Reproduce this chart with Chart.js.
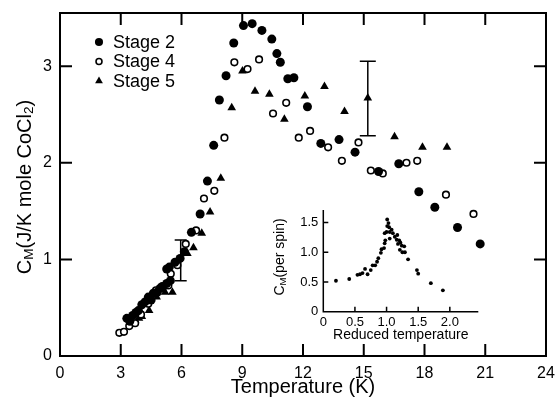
<!DOCTYPE html>
<html>
<head>
<meta charset="utf-8">
<script src="https://cdn.jsdelivr.net/npm/chart.js@4.4.1/dist/chart.umd.min.js"></script>
<style>
  body { margin: 0; background: #fff; }
  #wrap { position: relative; width: 555px; height: 398px; }
  #main { position: absolute; left: 0; top: 0; }
  #inset { position: absolute; left: 270px; top: 195px; }
</style>
</head>
<body>
<div id="wrap">
  <canvas id="main" width="555" height="398"></canvas>
  <canvas id="inset" width="215" height="150"></canvas>
</div>
<script>
// [temperature K, C_M J/K mole CoCl2]
const stage2 = [
  [3.30,0.39],[3.45,0.36],[3.59,0.42],[3.75,0.45],[3.87,0.47],[4.04,0.53],[4.20,0.56],[4.36,0.61],
  [4.50,0.58],[4.61,0.65],[4.80,0.66],[4.94,0.70],[5.05,0.72],[5.27,0.75],[5.45,0.78],[5.27,0.90],
  [5.40,0.92],[5.68,0.97],[5.93,1.01],[6.14,1.08],[6.49,1.28],[6.92,1.47],[7.28,1.81],[7.59,2.18],
  [7.87,2.65],[8.20,2.90],[8.58,3.24],[9.06,3.42],[9.49,3.44],[9.97,3.37],[10.46,3.28],[10.71,3.13],
  [10.88,3.04],[11.25,2.87],[11.55,2.88],[12.22,2.58],[12.88,2.20],[13.78,2.24],[14.57,2.11],
  [15.73,1.91],[16.73,1.99],[17.72,1.70],[18.51,1.54],[19.63,1.33],[20.75,1.16]
];
const stage4 = [
  [2.93,0.24],[3.16,0.25],[3.42,0.31],[3.60,0.38],[3.71,0.34],[4.00,0.43],[4.36,0.54],[4.55,0.62],
  [4.74,0.68],[5.11,0.72],[5.35,0.73],[5.47,0.85],[5.80,0.94],[6.21,1.16],[6.72,1.30],[7.11,1.63],
  [7.62,1.71],[8.12,2.26],[8.61,3.04],[9.26,2.97],[9.83,3.07],[10.52,2.51],[11.17,2.62],[11.79,2.26],
  [12.35,2.33],[13.24,2.16],[13.92,2.02],[14.74,2.21],[15.35,1.92],[15.94,1.89],[17.11,2.00],
  [17.64,2.02],[19.06,1.67],[20.42,1.47]
];
const stage5 = [
  [3.71,0.37],[3.90,0.39],[4.04,0.41],[4.40,0.47],[4.77,0.61],[5.19,0.66],[5.55,0.66],[6.29,1.06],
  [6.59,1.12],[7.00,1.27],[7.41,1.49],[7.94,1.84],[8.48,2.57],[9.01,2.95],[9.63,2.74],[10.34,2.71],
  [11.08,2.45],[12.09,2.69],[13.06,2.79],[14.05,2.53],[15.20,2.67],[16.52,2.27],[17.90,2.16],[19.11,2.16]
];
const errT = [5.96, 15.2];
const errLo = [0.78, 2.28];
const errHi = [1.20, 3.05];

// inset: [reduced temperature, C_M per spin]
const reduced = [
  [0.20,0.52],[0.41,0.55],[0.54,0.62],[0.58,0.63],[0.62,0.65],[0.66,0.72],[0.70,0.63],[0.75,0.70],
  [0.78,0.78],[0.82,0.78],[0.85,0.84],[0.87,0.90],[0.91,0.99],[0.92,1.05],[0.96,1.07],[0.97,1.15],
  [0.98,1.20],[0.97,1.32],[1.00,1.34],[1.01,1.44],[1.01,1.55],[1.03,1.49],[1.04,1.42],[1.05,1.34],
  [1.05,1.23],[1.08,1.38],[1.10,1.32],[1.13,1.26],[1.16,1.21],[1.17,1.29],[1.18,1.14],[1.20,1.20],
  [1.21,1.04],[1.22,1.16],[1.24,1.11],[1.25,1.00],[1.28,1.10],[1.29,1.00],[1.34,0.88],[1.48,0.70],
  [1.50,0.64],[1.70,0.48],[1.89,0.36]
];

const FONT = '"Liberation Sans", Arial, sans-serif';
Chart.defaults.font.family = FONT;
Chart.defaults.color = '#000';

const pts = arr => arr.map(p => ({x: p[0], y: p[1]}));

// box / axis lines with ticks pointing inwards
const frame = {
  id: 'frame',
  afterDraw(chart, args, o) {
    const {ctx, chartArea: a, scales: {x, y}} = chart;
    ctx.save();
    ctx.strokeStyle = '#000';
    ctx.lineWidth = o.width;
    ctx.beginPath();
    if (o.box) {
      ctx.rect(a.left, a.top, a.right - a.left, a.bottom - a.top);
    } else {
      ctx.moveTo(a.left, a.top); ctx.lineTo(a.left, a.bottom); ctx.lineTo(a.right, a.bottom);
    }
    x.ticks.forEach(t => {
      if (t.value <= x.min || t.value >= x.max) return;
      const px = x.getPixelForValue(t.value);
      ctx.moveTo(px, a.bottom); ctx.lineTo(px, a.bottom - o.tick);
      if (o.box) { ctx.moveTo(px, a.top); ctx.lineTo(px, a.top + o.tick); }
    });
    y.ticks.forEach(t => {
      if (t.value <= y.min || t.value >= y.max) return;
      const py = y.getPixelForValue(t.value);
      ctx.moveTo(a.left, py); ctx.lineTo(a.left + o.tick, py);
      if (o.box) { ctx.moveTo(a.right, py); ctx.lineTo(a.right - o.tick, py); }
    });
    ctx.stroke();
    ctx.restore();
  }
};

// rotated y title with subscripts
function drawRich(ctx, parts, cx, cy, size) {
  ctx.save();
  ctx.translate(cx, cy);
  ctx.rotate(-Math.PI / 2);
  ctx.fillStyle = '#000';
  ctx.textBaseline = 'middle';
  let w = 0;
  parts.forEach(p => { ctx.font = (p[1] ? size * 0.68 : size) + 'px ' + FONT; w += ctx.measureText(p[0]).width; });
  let xx = -w / 2;
  parts.forEach(p => {
    ctx.font = (p[1] ? size * 0.68 : size) + 'px ' + FONT;
    ctx.fillText(p[0], xx, p[1] ? size * 0.22 : 0);
    xx += ctx.measureText(p[0]).width;
  });
  ctx.restore();
}

const yTitle = {
  id: 'yTitle',
  afterDraw(chart, args, o) {
    drawRich(chart.ctx, o.parts, o.x, o.y, o.size);
  }
};

const errorBars = {
  id: 'errorBars',
  afterDatasetsDraw(chart) {
    const {ctx, scales: {x, y}} = chart;
    const caps = [6, 8];
    ctx.save();
    ctx.strokeStyle = '#000';
    ctx.lineWidth = 1.5;
    ctx.beginPath();
    errT.forEach((t, i) => {
      const px = x.getPixelForValue(t);
      const y0 = y.getPixelForValue(errLo[i]);
      const y1 = y.getPixelForValue(errHi[i]);
      ctx.moveTo(px, y0); ctx.lineTo(px, y1);
      ctx.moveTo(px - caps[i], y0); ctx.lineTo(px + caps[i], y0);
      ctx.moveTo(px - caps[i], y1); ctx.lineTo(px + caps[i], y1);
    });
    ctx.stroke();
    ctx.restore();
  }
};

const legendIn = {
  id: 'legendIn',
  afterDraw(chart) {
    const ctx = chart.ctx;
    const rows = [42, 61.5, 81];
    chart.data.datasets.forEach((ds, i) => {
      ctx.save();
      ctx.fillStyle = ds.backgroundColor;
      ctx.strokeStyle = ds.borderColor;
      ctx.lineWidth = ds.borderWidth;
      Chart.helpers.drawPoint(ctx, {pointStyle: ds.pointStyle, radius: ds.pointRadius * 0.9, rotation: 0, borderWidth: ds.borderWidth}, 99, rows[i]);
      ctx.fillStyle = '#000';
      ctx.font = '18px ' + FONT;
      ctx.textBaseline = 'middle';
      ctx.fillText(ds.label, 113, rows[i] + 1);
      ctx.restore();
    });
  }
};

new Chart(document.getElementById('main'), {
  type: 'scatter',
  data: {
    datasets: [
      {label: 'Stage 2', data: pts(stage2), pointStyle: 'circle', pointRadius: 4.5,
       backgroundColor: '#000', borderColor: '#000', borderWidth: 0},
      {label: 'Stage 4', data: pts(stage4), pointStyle: 'circle', pointRadius: 3.3,
       backgroundColor: '#fff', borderColor: '#000', borderWidth: 1.6},
      {label: 'Stage 5', data: pts(stage5), pointStyle: 'triangle', pointRadius: 5,
       backgroundColor: '#000', borderColor: '#000', borderWidth: 0}
    ]
  },
  options: {
    responsive: false,
    animation: false,
    layout: {padding: {top: 13, right: 9, left: 0, bottom: 0}},
    plugins: {
      legend: {display: false},
      tooltip: {enabled: false},
      frame: {box: true, width: 2, tick: 12},
      yTitle: {parts: [['C'], ['M', true], ['(J/K mole CoCl'], ['2', true], [')']], x: 25, y: 187, size: 20}
    },
    scales: {
      x: {
        type: 'linear', min: 0, max: 24,
        grid: {display: false, drawTicks: false}, border: {display: false},
        ticks: {stepSize: 3, font: {size: 16}, padding: 8},
        title: {display: true, text: 'Temperature (K)', font: {size: 20}, padding: {top: 0, bottom: -1}},
        afterFit: s => { s.height = 42; s.paddingLeft = 0; s.paddingRight = 0; }
      },
      y: {
        min: 0, max: 3.55,
        grid: {display: false, drawTicks: false}, border: {display: false},
        ticks: {stepSize: 1, includeBounds: false, font: {size: 16}, padding: 8},
        afterFit: s => { s.width = 60; s.paddingTop = 0; s.paddingBottom = 0; }
      }
    }
  },
  plugins: [frame, errorBars, legendIn, yTitle]
});

new Chart(document.getElementById('inset'), {
  type: 'scatter',
  data: {
    datasets: [
      {label: 'Reduced', data: pts(reduced), pointStyle: 'circle', pointRadius: 1.9,
       backgroundColor: '#000', borderWidth: 0}
    ]
  },
  options: {
    responsive: false,
    animation: false,
    layout: {padding: {top: 15, right: 6.7, left: 0, bottom: 0}},
    plugins: {
      legend: {display: false},
      tooltip: {enabled: false},
      frame: {box: false, width: 1.5, tick: 5},
      yTitle: {parts: [['C'], ['M', true], ['(per spin)']], x: 10, y: 62, size: 14}
    },
    scales: {
      x: {
        type: 'linear', min: 0, max: 2.45,
        grid: {display: false, drawTicks: false}, border: {display: false},
        ticks: {stepSize: 0.5, includeBounds: false, font: {size: 13}, padding: 3,
                callback: v => v === 0 ? '0' : v.toFixed(1)},
        title: {display: true, text: 'Reduced temperature', font: {size: 14}, padding: {top: 0, bottom: 1.5}},
        afterFit: s => { s.height = 33.3; s.paddingLeft = 0; s.paddingRight = 0; }
      },
      y: {
        min: 0, max: 1.71,
        grid: {display: false, drawTicks: false}, border: {display: false},
        ticks: {stepSize: 0.5, includeBounds: false, font: {size: 13}, padding: 5,
                callback: v => v === 0 ? '0' : v.toFixed(1)},
        afterFit: s => { s.width = 53.3; s.paddingTop = 0; s.paddingBottom = 0; }
      }
    }
  },
  plugins: [frame, yTitle]
});
</script>
</body>
</html>
